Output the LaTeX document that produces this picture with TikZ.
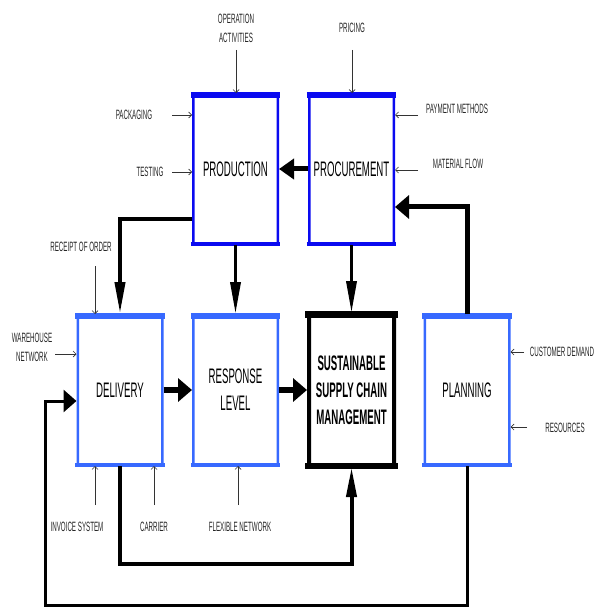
\documentclass[tikz,border=0pt]{standalone}
\usepackage{fontspec}
\setmainfont{Liberation Sans}[FakeStretch=0.46]
\usetikzlibrary{arrows.meta,calc}
\definecolor{dblue}{RGB}{10,10,240}
\definecolor{lblue}{RGB}{55,105,255}
\begin{document}
\begin{tikzpicture}[x=1pt,y=-1pt,
  box/.style={draw, line width=2.5pt, rounded corners=1pt, minimum width=84.5pt, minimum height=149.5pt, inner sep=0pt, align=center, font=\fontsize{21}{27}\selectfont},
  lbl/.style={inner sep=0pt, align=center, text=black!85, font=\fontsize{13.5}{19}\selectfont},
  inarr/.style={draw=black!80, line width=0.7pt, -{Straight Barb[length=3pt,width=6pt]}},
  hthick/.style={draw, -{Triangle[length=15pt,width=21pt]}},
  vthick/.style={draw, -{Triangle[length=32pt,width=10pt]}}
]
\useasboundingbox (0,0) rectangle (596,609);
% boxes
\node[box, draw=dblue] (prod) at (235.5,169) {PRODUCTION};
\node[box, draw=dblue] (proc) at (351.5,169) {PROCUREMENT};
\node[box, draw=lblue] (deliv) at (120,390) {DELIVERY};
\node[box, draw=lblue] (resp) at (235.5,390) {RESPONSE\\LEVEL};
\node[box, draw=black, line width=4pt, minimum width=85pt, minimum height=150pt, font=\fontsize{21}{27}\bfseries\selectfont] (sscm) at (351.5,390) {SUSTAINABLE\\SUPPLY CHAIN\\MANAGEMENT};
\node[box, draw=lblue] (plan) at (467,390) {PLANNING};
% thick top/bottom edges
\foreach \n/\c in {prod/dblue,proc/dblue,deliv/lblue,resp/lblue,plan/lblue}{
  \draw[\c, line width=6pt] ([xshift=-1.25pt,yshift=-1.75pt]\n.north west) -- ([xshift=1.25pt,yshift=-1.75pt]\n.north east);
  \draw[\c, line width=4.5pt] ([xshift=-1.25pt,yshift=1pt]\n.south west) -- ([xshift=1.25pt,yshift=1pt]\n.south east);
}
\draw[black, line width=7pt] ([xshift=-2pt,yshift=-1.5pt]sscm.north west) -- ([xshift=2pt,yshift=-1.5pt]sscm.north east);
\draw[black, line width=6pt] ([xshift=-2pt,yshift=1pt]sscm.south west) -- ([xshift=2pt,yshift=1pt]sscm.south east);
% thick connectors
\draw[hthick, line width=5pt, -{Triangle[length=15pt,width=20pt]}] (proc.west) -- (prod.east);
\draw[hthick, line width=6pt, -{Triangle[length=14pt,width=23pt]}] (deliv.east) -- (resp.west);
\draw[hthick, line width=6pt, -{Triangle[length=14pt,width=23pt]}] (resp.east) -- (sscm.west);
\draw[hthick, line width=5pt, -{Triangle[length=14pt,width=23pt]}] (plan.north) |- ($(proc.east)+(0,38)$);
\draw[vthick, line width=4pt] ($(prod.west)+(0,50)$) -| (deliv.north);
\draw[vthick, line width=3.5pt] (prod.south) -- (resp.north);
\draw[vthick, line width=3.5pt] (proc.south) -- (sscm.north);
\draw[vthick, line width=4pt, -{Triangle[length=30pt,width=10pt]}] (deliv.south) -- ++(0,98) -| (sscm.south);
\coordinate (loopL) at (45,605);
\draw[hthick, line width=3pt, -{Triangle[length=13pt,width=22pt]}] (plan.south) |- (loopL) |- ($(deliv.west)+(0,11)$);
% labels
\node[lbl] (opact) at (236,28) {OPERATION\\ACTIVITIES};
\node[lbl] (pricing) at (352,28) {PRICING};
\node[lbl] (pack) at (134,115) {PACKAGING};
\node[lbl] (test) at (150,172) {TESTING};
\node[lbl] (pay) at (457,109) {PAYMENT METHODS};
\node[lbl] (mat) at (458,164) {MATERIAL FLOW};
\node[lbl] (rec) at (81,247) {RECEIPT OF ORDER};
\node[lbl] (ware) at (32,347) {WAREHOUSE\\NETWORK};
\node[lbl] (cust) at (562,352) {CUSTOMER DEMAND};
\node[lbl] (res) at (565,428) {RESOURCES};
\node[lbl] (inv) at (77,527) {INVOICE SYSTEM};
\node[lbl] (car) at (154,527) {CARRIER};
\node[lbl] (flex) at (240,527) {FLEXIBLE NETWORK};
% input arrows
\coordinate (c1) at (236,50);  \draw[inarr] (c1) -- (c1 |- prod.north);
\coordinate (c2) at (352,50);  \draw[inarr] (c2) -- (c2 |- proc.north);
\coordinate (c3) at (172,115); \draw[inarr] (c3) -- (c3 -| prod.west);
\coordinate (c4) at (172,172); \draw[inarr] (c4) -- (c4 -| prod.west);
\coordinate (c5) at (418,115); \draw[inarr] (c5) -- (c5 -| proc.east);
\coordinate (c6) at (418,170); \draw[inarr] (c6) -- (c6 -| proc.east);
\coordinate (c7) at (95,266);  \draw[inarr] (c7) -- (c7 |- deliv.north);
\coordinate (c8) at (55,354);  \draw[inarr] (c8) -- (c8 -| deliv.west);
\coordinate (c9) at (524,352); \draw[inarr] (c9) -- (c9 -| plan.east);
\coordinate (c10) at (527,427); \draw[inarr] (c10) -- (c10 -| plan.east);
\coordinate (c11) at (95,505); \draw[inarr] (c11) -- (c11 |- deliv.south);
\coordinate (c12) at (154,505); \draw[inarr] (c12) -- (c12 |- deliv.south);
\coordinate (c13) at (238,505); \draw[inarr] (c13) -- (c13 |- resp.south);
\end{tikzpicture}
\end{document}
